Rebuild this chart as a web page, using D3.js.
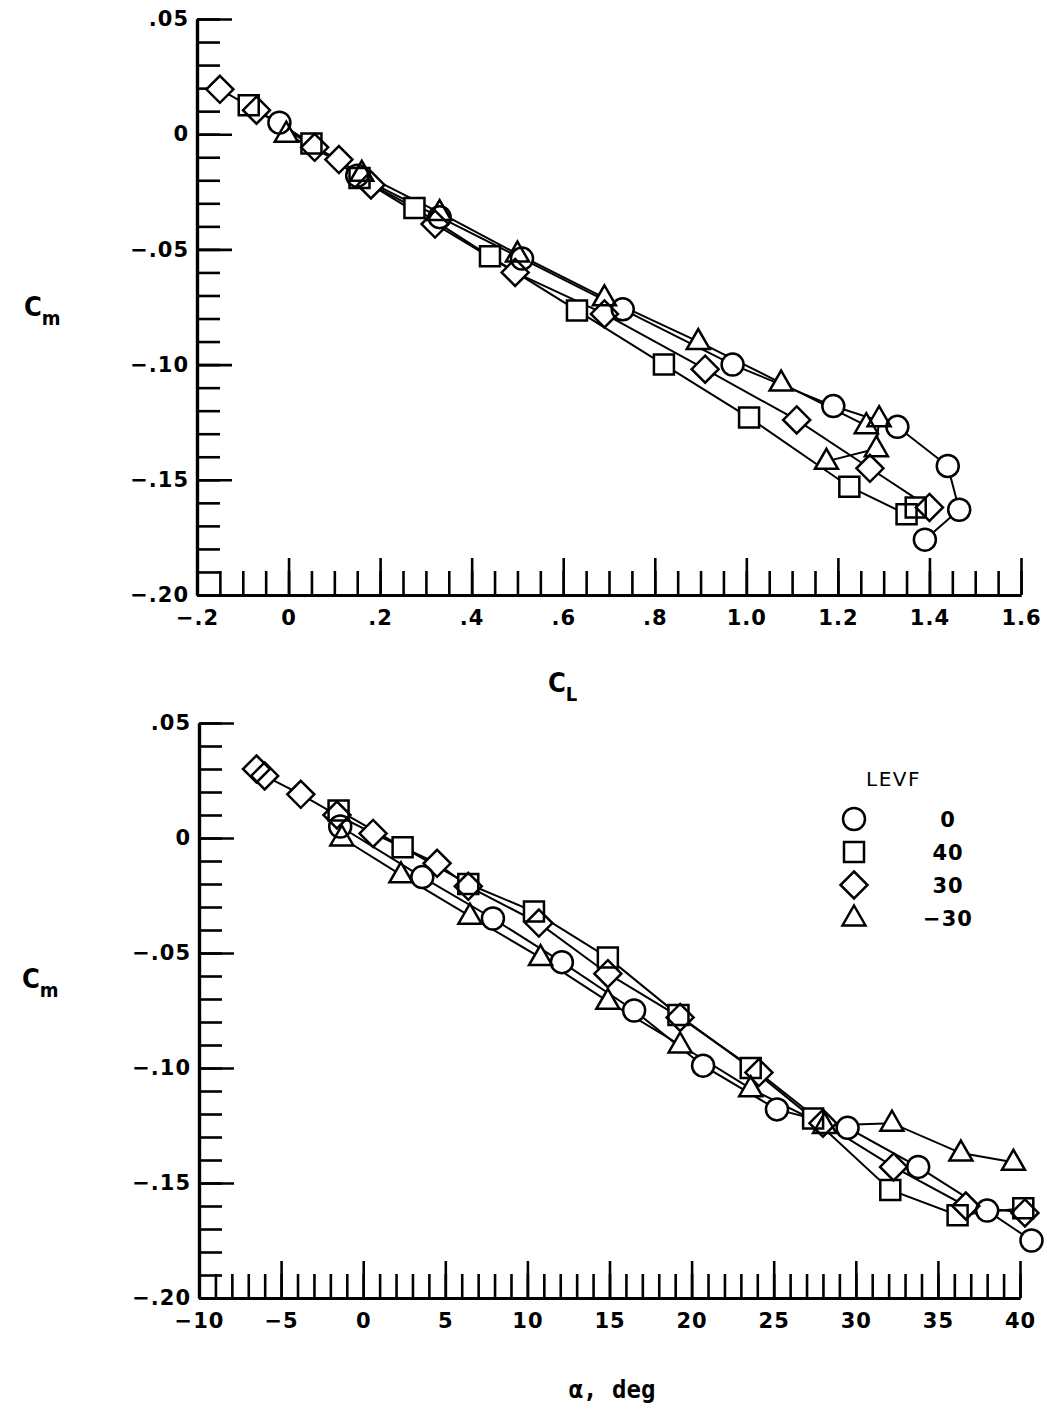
<!DOCTYPE html>
<html lang="en">
<head>
<meta charset="utf-8">
<title>Cm vs CL and alpha, LEVF</title>
<script src="https://d3js.org/d3.v7.min.js"></script>
<style>
  body { margin: 0; background: #fff; }
  .tick text { font-family: "DejaVu Sans", sans-serif; font-weight: bold; font-size: 21px; letter-spacing: 1px; fill: #000; }
</style>
</head>
<body>
<script>

    var w = 1047;
    var h = 1409;

    // legend: LEVF settings and their symbols
    var levfLabels = ["0", "40", "30", "\u221230"];
    var levfShapes = ["circle", "square", "diamond", "triangle"];

    // upper panel, Cm against CL
    var topCircleCL  = [-0.02, 0.15, 0.33, 0.51, 0.73, 0.97, 1.19, 1.33, 1.44, 1.465, 1.39];
    var topCircleCm  = [0.005, -0.018, -0.036, -0.054, -0.076, -0.100, -0.118, -0.127, -0.144, -0.163, -0.176];
    var topSquareCL  = [-0.087, 0.05, 0.155, 0.275, 0.44, 0.63, 0.82, 1.006, 1.225, 1.35, 1.37];
    var topSquareCm  = [0.0126, -0.004, -0.019, -0.032, -0.053, -0.0765, -0.100, -0.123, -0.153, -0.165, -0.162];
    var topDiamondCL = [-0.15, -0.07, 0.057, 0.11, 0.18, 0.32, 0.495, 0.69, 0.91, 1.11, 1.27, 1.40];
    var topDiamondCm = [0.0195, 0.0104, -0.0057, -0.011, -0.022, -0.039, -0.060, -0.078, -0.102, -0.124, -0.145, -0.162];
    var topTriangleCL = [-0.005, 0.16, 0.33, 0.50, 0.69, 0.895, 1.076, 1.262, 1.29, 1.284, 1.175];
    var topTriangleCm = [0.0, -0.017, -0.034, -0.052, -0.071, -0.090, -0.108, -0.1265, -0.1235, -0.1365, -0.142];

    // lower panel, Cm against alpha (deg)
    var botCircleA  = [-1.4, 3.6, 7.9, 12.1, 16.5, 20.7, 25.2, 29.5, 33.8, 38.0, 40.7];
    var botCircleCm = [0.005, -0.017, -0.035, -0.054, -0.075, -0.099, -0.118, -0.126, -0.143, -0.162, -0.175];
    var botSquareA  = [-1.5, 2.4, 6.4, 10.4, 14.9, 19.2, 23.6, 27.4, 32.1, 36.2, 40.2];
    var botSquareCm = [0.012, -0.004, -0.020, -0.032, -0.052, -0.077, -0.100, -0.122, -0.153, -0.164, -0.161];
    var botDiamondA  = [-6.5, -6.0, -3.8, -1.6, 0.6, 4.5, 6.4, 10.7, 14.9, 19.3, 24.1, 28.0, 32.3, 36.7, 40.3];
    var botDiamondCm = [0.030, 0.027, 0.019, 0.010, 0.002, -0.011, -0.021, -0.037, -0.059, -0.078, -0.102, -0.124, -0.143, -0.160, -0.163];
    var botTriangleA  = [-1.3, 2.3, 6.5, 10.8, 14.9, 19.3, 23.6, 28.1, 32.2, 36.4, 39.6];
    var botTriangleCm = [0.0, -0.016, -0.034, -0.052, -0.071, -0.090, -0.109, -0.125, -0.124, -0.137, -0.141];

    // tick labels
    var cmTicks  = [0.05, 0, -0.05, -0.10, -0.15, -0.20];
    var cmLabels = [".05", "0", "\u2212.05", "\u2212.10", "\u2212.15", "\u2212.20"];
    var clTicks  = [-0.2, 0, 0.2, 0.4, 0.6, 0.8, 1.0, 1.2, 1.4, 1.6];
    var clLabels = ["\u2212.2", "0", ".2", ".4", ".6", ".8", "1.0", "1.2", "1.4", "1.6"];
    var aTicks   = [-10, -5, 0, 5, 10, 15, 20, 25, 30, 35, 40];
    var aLabels  = ["\u221210", "\u22125", "0", "5", "10", "15", "20", "25", "30", "35", "40"];

    var svg = d3.select("body").append("svg")
        .attr("width", w)
        .attr("height", h)
        .style("background", "#fff");

    // symbol outlines, drawn round (0,0)
    function shapePath(type) {
        if (type == "circle") {
            var p = d3.path();
            p.arc(0, 0, 11, 0, 2 * Math.PI);
            p.closePath();
            return p.toString();
        }
        if (type == "square") return "M-10,-10H10V10H-10Z";
        if (type == "diamond") return "M0,-13.5L13.5,0L0,13.5L-13.5,0Z";
        return "M0,-12.5L11.5,7.5L-11.5,7.5Z";
    }

    function panel(x, y, xTicks, xLabels, xMinor, series) {
        var yMinor = d3.range(-20, 6).map(function(d) { return d / 100; });

        // axes, ticks pointing into the plot
        var ax = svg.append("g");
        ax.append("g").attr("transform", "translate(0," + y(-0.2) + ")")
            .call(d3.axisBottom(x).tickValues(xMinor).tickFormat("").tickSizeInner(-24).tickSizeOuter(0));
        ax.append("g").attr("transform", "translate(0," + y(-0.2) + ")")
            .call(d3.axisBottom(x).tickValues(xTicks).tickSizeInner(-37).tickSizeOuter(0).tickPadding(15)
                .tickFormat(function(d) { return xLabels[xTicks.indexOf(d)]; }));
        ax.append("g").attr("transform", "translate(" + x.range()[0] + ",0)")
            .call(d3.axisLeft(y).tickValues(yMinor).tickFormat("").tickSizeInner(-23).tickSizeOuter(0));
        ax.append("g").attr("transform", "translate(" + x.range()[0] + ",0)")
            .call(d3.axisLeft(y).tickValues(cmTicks).tickSizeInner(-35).tickSizeOuter(0).tickPadding(8)
                .tickFormat(function(d) { return cmLabels[cmTicks.indexOf(d)]; }));
        ax.selectAll(".domain").attr("stroke", "#000").attr("stroke-width", 3.2);
        ax.selectAll(".tick line").attr("stroke", "#000").attr("stroke-width", 2.6);

        var line = d3.line().x(function(d) { return x(d[0]); }).y(function(d) { return y(d[1]); });

        series.forEach(function(s) {
            svg.append("path").datum(s.pts)
                .attr("d", line)
                .attr("fill", "none")
                .attr("stroke", "#000")
                .attr("stroke-width", 2);
        });
        // white inside first so lines stop at the symbols, then every outline
        series.forEach(function(s) {
            svg.append("g").selectAll("path").data(s.pts).enter().append("path")
                .attr("d", shapePath(s.shape))
                .attr("transform", function(d) { return "translate(" + x(d[0]) + "," + y(d[1]) + ")"; })
                .attr("fill", "#fff");
        });
        series.forEach(function(s) {
            svg.append("g").selectAll("path").data(s.pts).enter().append("path")
                .attr("d", shapePath(s.shape))
                .attr("transform", function(d) { return "translate(" + x(d[0]) + "," + y(d[1]) + ")"; })
                .attr("fill", "none")
                .attr("stroke", "#000")
                .attr("stroke-width", 2.5);
        });
    }

    function zip(a, b) { return a.map(function(v, i) { return [v, b[i]]; }); }

    // upper panel
    var xTop = d3.scaleLinear().domain([-0.2, 1.6]).range([197, 1021]);
    var yTop = d3.scaleLinear().domain([-0.2, 0.05]).range([595, 19]);
    panel(xTop, yTop, clTicks, clLabels, d3.range(-4, 33).map(function(d) { return d * 0.05; }), [
        {shape: "square", pts: zip(topSquareCL, topSquareCm)},
        {shape: "diamond", pts: zip(topDiamondCL, topDiamondCm)},
        {shape: "triangle", pts: zip(topTriangleCL, topTriangleCm)},
        {shape: "circle", pts: zip(topCircleCL, topCircleCm)}
    ]);

    // lower panel
    var xBot = d3.scaleLinear().domain([-10, 40]).range([199, 1020]);
    var yBot = d3.scaleLinear().domain([-0.2, 0.05]).range([1298, 723]);
    panel(xBot, yBot, aTicks, aLabels, d3.range(-10, 41), [
        {shape: "square", pts: zip(botSquareA, botSquareCm)},
        {shape: "diamond", pts: zip(botDiamondA, botDiamondCm)},
        {shape: "triangle", pts: zip(botTriangleA, botTriangleCm)},
        {shape: "circle", pts: zip(botCircleA, botCircleCm)}
    ]);

    // axis titles
    function cTitle(xp, yp, sub) {
        var t = svg.append("text").attr("x", xp).attr("y", yp)
            .attr("font-family", "DejaVu Sans Condensed, DejaVu Sans, sans-serif")
            .attr("font-weight", "bold")
            .attr("font-size", 27);
        t.append("tspan").text("C");
        t.append("tspan").attr("font-size", 20).attr("dy", 9).text(sub);
    }
    cTitle(24, 316, "m");
    cTitle(22, 988, "m");
    cTitle(548, 692, "L");

    svg.append("text").attr("x", 612).attr("y", 1398)
        .attr("text-anchor", "middle")
        .attr("font-family", "DejaVu Sans Mono, monospace")
        .attr("font-weight", "bold")
        .attr("font-size", 24)
        .text("\u03b1, deg");

    // legend
    var leg = svg.append("g");
    leg.append("text").attr("x", 866).attr("y", 786)
        .attr("font-family", "DejaVu Sans, sans-serif")
        .attr("font-size", 20).attr("letter-spacing", 1.5)
        .text("LEVF");
    var rows = leg.selectAll("g.row").data(levfLabels).enter().append("g")
        .attr("transform", function(d, i) { return "translate(0," + (819 + i * 33) + ")"; });
    rows.append("path")
        .attr("d", function(d, i) { return shapePath(levfShapes[i]); })
        .attr("transform", "translate(854,0)")
        .attr("fill", "none").attr("stroke", "#000").attr("stroke-width", 2.5);
    rows.append("text").attr("x", 948).attr("y", 8)
        .attr("text-anchor", "middle")
        .attr("font-family", "DejaVu Sans, sans-serif")
        .attr("font-weight", "bold")
        .attr("font-size", 21).attr("letter-spacing", 1)
        .text(function(d) { return d; });

</script>
</body>
</html>
